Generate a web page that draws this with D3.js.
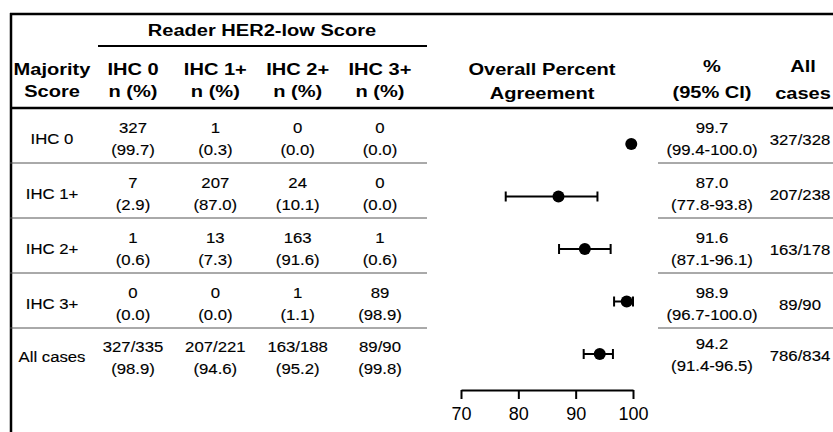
<!DOCTYPE html>
<html>
<head>
<meta charset="utf-8">
<script src="https://cdn.jsdelivr.net/npm/d3@7"></script>
<style>
  body { margin: 0; background: #fff; }
  svg { display: block; }
  text { font-family: "Liberation Sans", Arial, sans-serif; fill: #000; }
  .hd { font-weight: bold; font-size: 17px; fill: #000; }
  .bd { font-size: 15.5px; stroke: #000; stroke-width: 0.15px; }
  .axis text { font-family: "Liberation Sans", Arial, sans-serif; font-size: 18px; fill: #000; }
</style>
</head>
<body>
<div id="chart"></div>
<script>
const majorityScores = ['IHC 0', 'IHC 1+', 'IHC 2+', 'IHC 3+'];
const readerScores = ['IHC 0', 'IHC 1+', 'IHC 2+', 'IHC 3+'];
const rowNames = ['IHC 0', 'IHC 1+', 'IHC 2+', 'IHC 3+', 'All cases'];

// counts[majority][reader] and row percentages
const counts = [[327, 1, 0, 0], [7, 207, 24, 0], [1, 13, 163, 1], [0, 0, 1, 89]];
const percents = [[99.7, 0.3, 0.0, 0.0], [2.9, 87.0, 10.1, 0.0], [0.6, 7.3, 91.6, 0.6], [0.0, 0.0, 1.1, 98.9]];
const allCasesAgree = [327, 207, 163, 89];
const allCasesTotal = [335, 221, 188, 90];
const allCasesPct = [98.9, 94.6, 95.2, 99.8];

// overall percent agreement per row
const opa = [99.7, 87.0, 91.6, 98.9, 94.2];
const ciLow = [99.4, 77.8, 87.1, 96.7, 91.4];
const ciHigh = [100.0, 93.8, 96.1, 100.0, 96.5];
const agreeN = [327, 207, 163, 89, 786];
const totalN = [328, 238, 178, 90, 834];
const axisTicks = [70, 80, 90, 100];

const width = 833, height = 432;
const svg = d3.select('#chart')
    .append('svg')
    .attr('width', width)
    .attr('height', height);

const hdStretch = 1.18, bdStretch = 1.08;
function txt(x, y, s, cls) {
    svg.append('text')
        .attr('class', cls)
        .attr('text-anchor', 'middle')
        .attr('transform', `translate(${x},${y}) scale(${cls == 'hd' ? hdStretch : bdStretch},1)`)
        .text(s);
}
function hline(x1, x2, y, w, c) {
    svg.append('line')
        .attr('x1', x1).attr('x2', x2)
        .attr('y1', y).attr('y2', y)
        .attr('stroke', c).attr('stroke-width', w);
}

const rowY = d3.scaleBand().domain(rowNames).range([108, 383]);
const colX = d3.scalePoint().domain(readerScores).range([133, 380]);
const firstColX = 52, pctColX = 712, allColX = 803, plotCenter = 542;

// frame
hline(10, width, 14, 2.5, '#000');
svg.append('line')
    .attr('x1', 11).attr('x2', 11)
    .attr('y1', 13).attr('y2', height)
    .attr('stroke', '#000').attr('stroke-width', 2.5);
hline(98, 427, 46, 2, '#000');
hline(10, width, 108, 2.5, '#000');
rowNames.slice(1).forEach(r => {
    hline(10, 427, rowY(r), 1, '#555');
    hline(658, width, rowY(r), 1, '#555');
});

// headers
txt(262, 36, 'Reader HER2-low Score', 'hd');
txt(firstColX, 75, 'Majority', 'hd');
txt(firstColX, 97, 'Score', 'hd');
readerScores.forEach(c => {
    txt(colX(c), 75, c, 'hd');
    txt(colX(c), 97, 'n (%)', 'hd');
});
txt(plotCenter, 75, 'Overall Percent', 'hd');
txt(plotCenter, 99, 'Agreement', 'hd');
txt(pctColX, 72, '%', 'hd');
txt(pctColX, 98, '(95% CI)', 'hd');
txt(allColX, 72, 'All', 'hd');
txt(allColX, 99, 'cases', 'hd');

// table body
majorityScores.forEach((m, i) => {
    const t = rowY(m);
    txt(firstColX, t + 36, m, 'bd');
    readerScores.forEach((c, j) => {
        txt(colX(c), t + 25, counts[i][j], 'bd');
        txt(colX(c), t + 47, `(${percents[i][j].toFixed(1)})`, 'bd');
    });
});
const lastTop = rowY('All cases');
txt(firstColX, lastTop + 34, 'All cases', 'bd');
readerScores.forEach((c, j) => {
    txt(colX(c), lastTop + 24, `${allCasesAgree[j]}/${allCasesTotal[j]}`, 'bd');
    txt(colX(c), lastTop + 46, `(${allCasesPct[j].toFixed(1)})`, 'bd');
});

rowNames.forEach((r, i) => {
    const t = rowY(r);
    const up = r == 'All cases' ? 4 : 0;
    txt(pctColX, t + 25 - up, opa[i].toFixed(1), 'bd');
    txt(pctColX, t + 47 - up, `(${ciLow[i].toFixed(1)}-${ciHigh[i].toFixed(1)})`, 'bd');
    txt(allColX - 3, t + 37 - up, `${agreeN[i]}/${totalN[i]}`, 'bd');
});

// forest plot
const xScale = d3.scaleLinear().domain([70, 100]).range([461, 633]);
const yScale = d3.scalePoint().domain(rowNames).range([144, 354]);
const forest = svg.append('g');
const rows = forest.selectAll('.est')
    .data(rowNames)
    .enter()
    .append('g')
    .attr('class', 'est');
rows.append('line')
    .attr('x1', (d, i) => xScale(ciLow[i]))
    .attr('x2', (d, i) => xScale(ciHigh[i]))
    .attr('y1', d => yScale(d)).attr('y2', d => yScale(d))
    .attr('stroke', '#000').attr('stroke-width', 2);
[ciLow, ciHigh].forEach(arr => {
    rows.append('line')
        .attr('x1', (d, i) => xScale(arr[i]))
        .attr('x2', (d, i) => xScale(arr[i]))
        .attr('y1', d => yScale(d) - 5).attr('y2', d => yScale(d) + 5)
        .attr('stroke', '#000').attr('stroke-width', 2);
});
rows.append('circle')
    .attr('cx', (d, i) => xScale(opa[i]))
    .attr('cy', d => yScale(d))
    .attr('r', 6)
    .attr('fill', '#000');

const axis = svg.append('g')
    .attr('class', 'axis')
    .attr('transform', 'translate(0,390)')
    .call(d3.axisBottom(xScale).tickValues(axisTicks).tickSize(9).tickSizeOuter(0).tickPadding(8));
axis.select('.domain').attr('stroke', '#000').attr('stroke-width', 2);
axis.selectAll('.tick line').attr('stroke', '#000').attr('stroke-width', 2);
</script>
</body>
</html>
